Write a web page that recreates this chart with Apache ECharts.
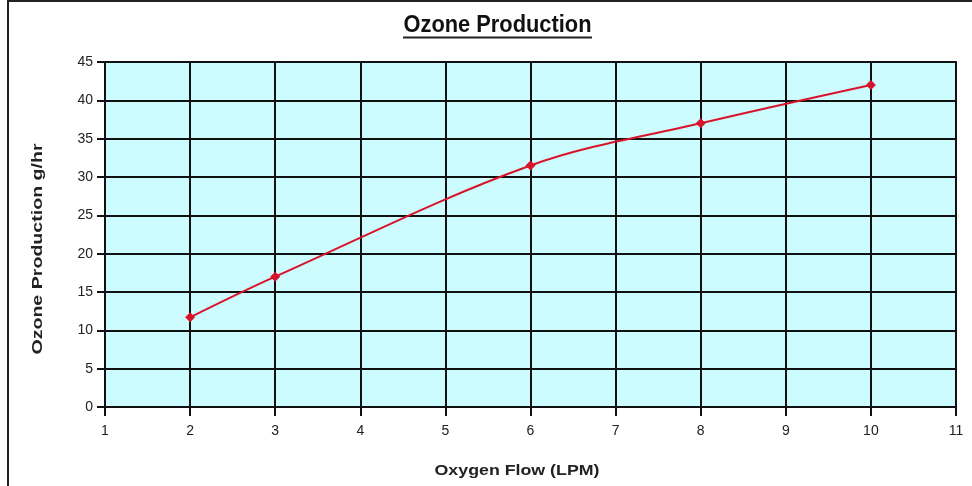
<!DOCTYPE html>
<html>
<head>
<meta charset="utf-8">
<script src="https://cdn.jsdelivr.net/npm/echarts@6/dist/echarts.min.js"></script>
<style>
  html, body { margin: 0; padding: 0; background: #fff; }
  #chart { width: 972px; height: 486px; }
</style>
</head>
<body>
<div id="chart"></div>
<script>
// oxygen flow (LPM) and ozone output (g/hr)
const flowLPM = [2, 3, 6, 8, 10];
const ozoneGHr = [11.7, 17, 31.5, 37, 42];
const xTicks = [1, 11, 1];   // min, max, step
const yTicks = [0, 45, 5];

const chart = echarts.init(document.getElementById('chart'));

const gridLine = { color: '#111', width: 2 };
const nameFont = { fontFamily: 'Liberation Sans', fontWeight: 'bold', fontSize: 14, fill: '#222' };

chart.setOption({
  backgroundColor: '#fff',
  animation: false,
  graphic: [
    // outer frame (cropped at right / bottom)
    {
      type: 'rect',
      shape: { x: 8, y: 1, width: 980, height: 500 },
      style: { fill: 'none', stroke: '#222', lineWidth: 2 },
      silent: true
    },
    // title, narrow bold look
    {
      type: 'text',
      x: 497.5, y: 25,
      scaleX: 0.91,
      style: {
        text: 'Ozone Production',
        fontFamily: 'Liberation Sans',
        fontWeight: 'bold',
        fontSize: 24,
        fill: '#111',
        align: 'center',
        verticalAlign: 'middle'
      },
      silent: true
    },
    {
      type: 'line',
      shape: { x1: 403, y1: 37.5, x2: 592, y2: 37.5 },
      style: { stroke: '#222', lineWidth: 2 },
      silent: true
    },
    // axis names (spaced out like the original)
    {
      type: 'text',
      x: 517, y: 471,
      scaleX: 1.27,
      style: Object.assign({ text: 'Oxygen Flow (LPM)', align: 'center', verticalAlign: 'middle' }, nameFont),
      silent: true
    },
    {
      type: 'text',
      x: 38, y: 249,
      rotation: Math.PI / 2,
      scaleX: 1.4,
      style: Object.assign({ text: 'Ozone Production g/hr', align: 'center', verticalAlign: 'middle' }, nameFont),
      silent: true
    }
  ],
  grid: {
    left: 105,
    right: 16,
    top: 62,
    bottom: 79,
    show: true,
    backgroundColor: '#ccfcfd',
    borderColor: '#333',
    borderWidth: 2
  },
  xAxis: {
    type: 'value',
    min: xTicks[0],
    max: xTicks[1],
    interval: xTicks[2],
    axisLine: { show: true, lineStyle: gridLine },
    axisTick: { show: true, length: 9, lineStyle: gridLine },
    axisLabel: {
      margin: 17,
      fontFamily: 'Liberation Sans',
      fontSize: 14,
      color: '#222'
    },
    splitLine: { show: true, lineStyle: gridLine }
  },
  yAxis: {
    type: 'value',
    min: yTicks[0],
    max: yTicks[1],
    interval: yTicks[2],
    axisLine: { show: true, lineStyle: gridLine },
    axisTick: { show: true, length: 8, lineStyle: gridLine },
    axisLabel: {
      margin: 12,
      fontFamily: 'Liberation Sans',
      fontSize: 14,
      color: '#222'
    },
    splitLine: { show: true, lineStyle: gridLine }
  },
  series: [
    {
      type: 'line',
      data: flowLPM.map((x, i) => [x, ozoneGHr[i]]),
      smooth: 0.35,
      symbol: 'diamond',
      symbolSize: 10,
      lineStyle: { color: '#d8142a', width: 2 },
      itemStyle: { color: '#d8142a' }
    }
  ]
});
</script>
</body>
</html>
